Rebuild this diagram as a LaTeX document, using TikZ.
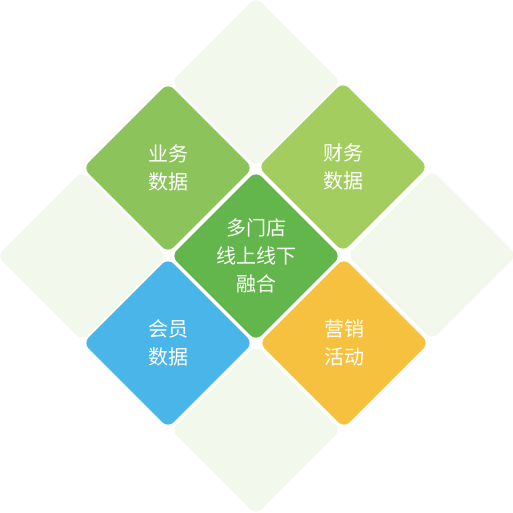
\documentclass[tikz,border=0pt]{standalone}
\usepackage{fontspec}
\newfontfamily\cjk{Noto Sans CJK SC}
\usetikzlibrary{shapes.geometric}
\definecolor{tilebg}{HTML}{F3F8EC}
\definecolor{tilegreen}{HTML}{8CC35A}
\definecolor{tilelime}{HTML}{A3CD5F}
\definecolor{tilemid}{HTML}{62B64B}
\definecolor{tileblue}{HTML}{4AB5E8}
\definecolor{tileorange}{HTML}{F5C13E}
\tikzstyle{tile}=[diamond,aspect=1,rounded corners=8pt,minimum width=170pt,minimum height=170pt,inner sep=0pt]
\tikzstyle{tiletext}=[text=white,align=center,font=\cjk\fontsize{20}{28}\selectfont]

\begin{document}
\begin{tikzpicture}[x=1pt,y=-1pt]
    \useasboundingbox (0,0) rectangle (513,512);

    % pale tiles round the edge
    \foreach \pos/\name in {{(256,82)/bgtop}, {(82,256)/bgleft}, {(432,255)/bgright}, {(256,430)/bgbottom}}
        \node[tile,fill=tilebg] (\name) at \pos {};

    % coloured tiles with their text
    \foreach \pos/\name/\col/\label in {{(168,168)/business/tilegreen/业务\\数据}, {(343,167)/finance/tilelime/财务\\数据}, {(256,256)/merge/tilemid/多门店\\线上线下\\融合}, {(168,343)/member/tileblue/会员\\数据}, {(344,343)/market/tileorange/营销\\活动}}
        \node[tile,tiletext,fill=\col] (\name) at \pos {\label};

\end{tikzpicture}
\end{document}
